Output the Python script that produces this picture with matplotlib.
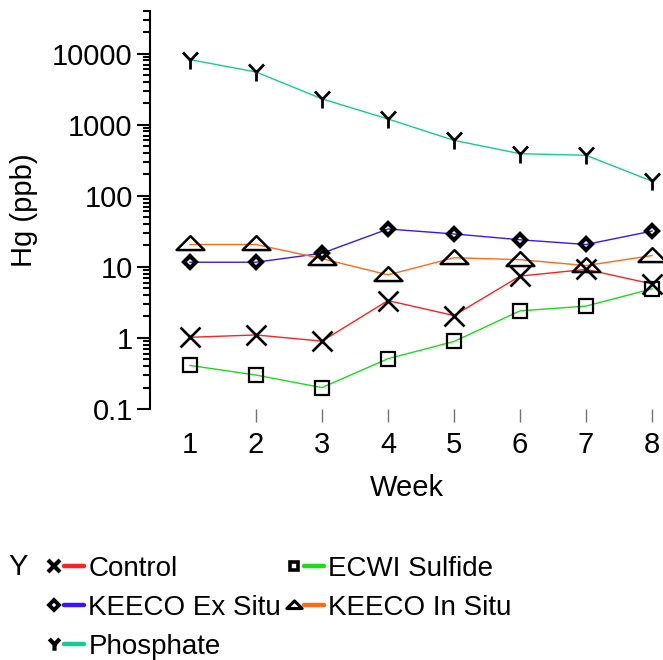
import matplotlib
matplotlib.use("Agg")
import matplotlib.pyplot as plt
from matplotlib.path import Path
from matplotlib.lines import Line2D
from matplotlib.legend_handler import HandlerTuple
from matplotlib.ticker import FixedLocator, FixedFormatter, LogLocator, NullFormatter

plt.rcParams['font.family'] = ['Liberation Sans', 'DejaVu Sans']

weeks = [1, 2, 3, 4, 5, 6, 7, 8]
control = [1.02, 1.1, 0.9, 3.35, 2.06, 7.4, 9.2, 5.75]
ecwi_sulfide = [0.41, 0.30, 0.20, 0.51, 0.89, 2.4, 2.8, 4.9]
keeco_ex_situ = [11.6, 11.6, 15.5, 34, 29, 24, 20.6, 31.8]
keeco_in_situ = [20.6, 20.6, 13, 7.7, 13.4, 12.6, 10.4, 14.4]
phosphate = [8200, 5500, 2300, 1200, 600, 390, 370, 160]

series_names = ["Control", "ECWI Sulfide", "KEECO Ex Situ", "KEECO In Situ", "Phosphate"]
ytick_vals = [0.1, 1, 10, 100, 1000, 10000]
ytick_labels = ["0.1", "1", "10", "100", "1000", "10000"]

# custom markers
tri_wide = Path([(-1, -0.4), (0, 0.6), (1, -0.4), (-1, -0.4)],
                [Path.MOVETO, Path.LINETO, Path.LINETO, Path.CLOSEPOLY])
y_mark = Path([(0, -9), (0, 0), (-7.5, 8), (0, 0), (7.5, 8)],
              [Path.MOVETO, Path.LINETO, Path.LINETO, Path.MOVETO, Path.LINETO])

colors = {"Control": "#ff2020", "ECWI Sulfide": "#18dd18", "KEECO Ex Situ": "#3a14ff",
          "KEECO In Situ": "#ff6a14", "Phosphate": "#14cc90"}
styles = {
    "Control": dict(marker="x", ms=14, mew=1.9),
    "ECWI Sulfide": dict(marker="s", ms=10, mew=1.6),
    "KEECO Ex Situ": dict(marker="D", ms=6.3, mew=3.0),
    "KEECO In Situ": dict(marker=tri_wide, ms=20, mew=1.8),
    "Phosphate": dict(marker=y_mark, ms=13, mew=2.0),
}
legend_styles = {
    "Control": dict(marker="x", ms=8.5, mew=3),
    "ECWI Sulfide": dict(marker="s", ms=5.5, mew=2.6),
    "KEECO Ex Situ": dict(marker="D", ms=5.0, mew=2.8),
    "KEECO In Situ": dict(marker=tri_wide, ms=11, mew=2.2),
    "Phosphate": dict(marker=y_mark, ms=9, mew=3),
}
data = {"Control": control, "ECWI Sulfide": ecwi_sulfide, "KEECO Ex Situ": keeco_ex_situ,
        "KEECO In Situ": keeco_in_situ, "Phosphate": phosphate}

fig = plt.figure(figsize=(6.63, 6.60), dpi=100)
ax = fig.add_axes([150/663, 1-409/660, 513/663, (409-10.7)/660])

for name in series_names:
    ax.plot(weeks, data[name], color=colors[name], lw=1.0, zorder=2)
for name in series_names:
    st = styles[name]
    ax.plot(weeks, data[name], ls="none", marker=st["marker"], ms=st["ms"], mew=st["mew"],
            mec="black", mfc="none", zorder=3, clip_on=False)

ax.set_yscale("log")
ax.set_ylim(0.1, 40000)
ax.set_xlim(1 - 40/66, 8 + 11/66)

for s in ["top", "right", "bottom"]:
    ax.spines[s].set_visible(False)
ax.spines["left"].set_linewidth(1.5)

ax.yaxis.set_major_locator(FixedLocator(ytick_vals))
ax.yaxis.set_major_formatter(FixedFormatter(ytick_labels))
ax.yaxis.set_minor_locator(LogLocator(base=10, subs=range(2, 10), numticks=20))
ax.yaxis.set_minor_formatter(NullFormatter())
ax.tick_params(axis="y", which="major", length=9.5, width=1.5, labelsize=21, pad=3)
ax.tick_params(axis="y", which="minor", length=5, width=1.5)

ax.set_xticks(weeks)
ax.set_xticklabels([str(w) for w in weeks])
ax.tick_params(axis="x", which="major", length=9.5, width=1, color="#707070",
               labelsize=21, pad=6)
ax.xaxis.get_major_ticks()[0].tick1line.set_visible(False)

ax.set_xlabel("Week", fontsize=21, labelpad=11)
ax.set_ylabel("Hg (ppb)", fontsize=21)
ax.yaxis.set_label_coords((38 - 150) / 513, 0.5)

# legend
order = ["Control", "KEECO Ex Situ", "Phosphate", "ECWI Sulfide", "KEECO In Situ"]
handles = []
for name in order:
    st = legend_styles[name]
    mk = Line2D([], [], ls="none", marker=st["marker"], ms=st["ms"], mew=st["mew"],
                mec="black", mfc="none")
    ln = Line2D([], [], color=colors[name], lw=3.2, solid_capstyle="round")
    handles.append((mk, ln))
leg = fig.legend(handles, order, ncol=2, loc="upper left",
                 bbox_to_anchor=(44/663, 1-556/660), frameon=False, fontsize=20,
                 handler_map={tuple: HandlerTuple(ndivide=None, pad=0)},
                 handlelength=1.45, handletextpad=0.15, columnspacing=0.1,
                 labelspacing=0.46, borderpad=0, borderaxespad=0)
fig.text(8/663, 1-567/660, "Y", fontsize=21, va="center", ha="left")

fig.savefig("out.png", dpi=100, facecolor="white")
